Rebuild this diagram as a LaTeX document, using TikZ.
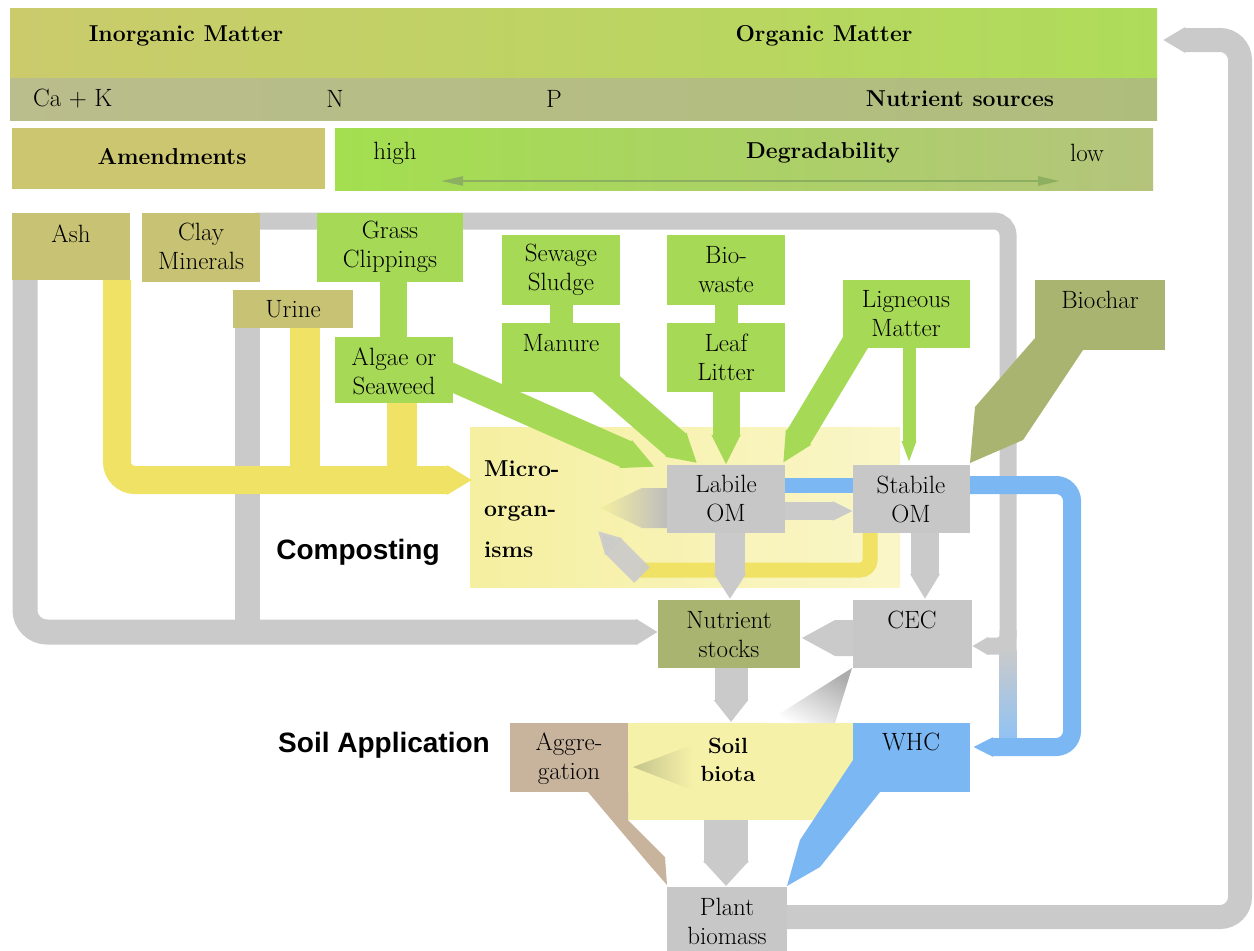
\documentclass[tikz,border=0pt]{standalone}
\usepackage{fontspec}
\newfontfamily\arialf{Liberation Sans}
\usetikzlibrary{arrows.meta,fit,calc}
\definecolor{gpipe}{HTML}{CACACA}
\definecolor{gbox}{HTML}{C7C7C7}
\definecolor{grn}{HTML}{A6D956}
\definecolor{olv}{HTML}{C8C274}
\definecolor{olvd}{HTML}{A8B46F}
\definecolor{ylw}{HTML}{F0E264}
\definecolor{pyl}{HTML}{FAF6C8}
\definecolor{pyl2}{HTML}{F5EFA0}
\definecolor{sbio}{HTML}{F6F1A8}
\definecolor{blu}{HTML}{7BB7F3}
\definecolor{brn}{HTML}{C8B39D}
\definecolor{bandL}{HTML}{CBCB6C}
\definecolor{bandR}{HTML}{AEDC5A}
\definecolor{nutL}{HTML}{BABD8C}
\definecolor{nutR}{HTML}{AFBD7C}
\definecolor{amend}{HTML}{CCC670}
\definecolor{degL}{HTML}{A3DF4F}
\definecolor{degR}{HTML}{B4C47C}
\definecolor{darr}{HTML}{8DB060}
\definecolor{aggarr}{HTML}{C4C48C}
\pgfdeclarelayer{back}
\pgfdeclarelayer{pipes}
\pgfsetlayers{back,pipes,main}
\begin{document}
\begin{tikzpicture}[x=1pt,y=-1pt,
  box/.style={inner sep=0pt, draw=none},
  lbl/.style={inner sep=0pt, align=center, font=\fontsize{25}{29}\selectfont},
  hd/.style={inner sep=0pt, align=center, font=\fontsize{23}{29}\selectfont\bfseries},
  sans/.style={inner sep=0pt, font=\arialf\fontsize{28}{34}\selectfont\bfseries},
  ptip/.style={-{Triangle[length=#1,width=0pt 1]}}]
\useasboundingbox (0,0) rectangle (1254,951);
\begin{pgfonlayer}{back}
\fill[white] (0,0) rectangle (1254,951);
% top bands
\shade[left color=bandL, right color=bandR] (10,8) rectangle (1157,78);
\shade[left color=nutL, right color=nutR] (10,78) rectangle (1157,120);
\fill[amend] (12,128) rectangle (325,189);
\shade[left color=degL, right color=degR] (335,128) rectangle (1153,190);
% composting and soil biota areas
\shade[left color=pyl2, right color=pyl] (470,427) rectangle (900,587);
\fill[sbio] (628,723) rectangle (853,820);
\end{pgfonlayer}

% header texts
\node[hd] (inorg) at (186,36) {Inorganic Matter};
\node[hd] (org) at (824,36) {Organic Matter};
\node[lbl, anchor=west] (cak) at (33,99) {Ca + K};
\node[lbl] (nN) at (335,99) {N};
\node[lbl] (nP) at (554,99) {P};
\node[hd] (nsrc) at (960,99) {Nutrient sources};
\node[hd] (amendt) at (172,157) {Amendments};
\node[lbl] (high) at (395,153) {high};
\node[hd] (degr) at (823,153) {Degradability};
\node[lbl] (low) at (1087,153) {low};
\coordinate (dl) at (441,181);
\coordinate (dr) at (1060,181);
\draw[darr, line width=2.5pt, {Triangle[length=22pt,width=9pt]}-{Triangle[length=22pt,width=9pt]}] (dl) -- (dr);

% boxes
\node[box, fill=olv, fit={(12,213) (130,280)}] (ash) {};
\node[box, fill=olv, fit={(142,213) (260,282)}] (clay) {};
\node[box, fill=grn, fit={(317,213) (463,282)}] (grass) {};
\node[box, fill=olv, fit={(233,290) (353,328)}] (urine) {};
\node[box, fill=grn, fit={(335,337) (453,403)}] (algae) {};
\node[box, fill=grn, fit={(502,235) (620,305)}] (sewage) {};
\node[box, fill=grn, fit={(502,323) (620,392)}] (manure) {};
\node[box, fill=grn, fit={(667,235) (785,305)}] (biow) {};
\node[box, fill=grn, fit={(667,323) (785,392)}] (leaf) {};
\node[box, fill=grn, fit={(843,280) (970,348)}] (lign) {};
\node[box, fill=olvd, fit={(1035,280) (1165,350)}] (biochar) {};
\node[box, fill=gbox, fit={(667,465) (785,533)}] (labile) {};
\node[box, fill=gbox, fit={(853,465) (970,533)}] (stabile) {};
\node[box, fill=olvd, fit={(658,600) (800,668)}] (nutr) {};
\node[box, fill=gbox, fit={(853,600) (972,668)}] (cec) {};
\node[box, fill=brn, fit={(510,723) (628,792)}] (aggr) {};
\node[box, fill=blu, fit={(853,723) (970,792)}] (whc) {};
\node[box, fill=gbox, fit={(667,887) (787,951)}] (plant) {};

% box texts
\node[lbl] (asht) at (71,234) {Ash};
\node[lbl] (clayt) at (201,246) {Clay\\Minerals};
\node[lbl] (grasst) at (390,247) {Grass\\Clippings};
\node[lbl] (urinet) at (293,309) {Urine};
\node[lbl] (algaet) at (394,371) {Algae or\\Seaweed};
\node[lbl] (sewaget) at (561,270) {Sewage\\Sludge};
\node[lbl] (manuret) at (561,343) {Manure};
\node[lbl] (biowt) at (726,270) {Bio-\\waste};
\node[lbl] (leaft) at (726,357) {Leaf\\Litter};
\node[lbl] (lignt) at (906,314) {Ligneous\\Matter};
\node[lbl] (biochart) at (1100,300) {Biochar};
\node[lbl] (labilet) at (726,499) {Labile\\OM};
\node[lbl] (stabilet) at (911,499) {Stabile\\OM};
\node[lbl] (nutrt) at (729,635) {Nutrient\\stocks};
\node[lbl] (cect) at (912,620) {CEC};
\node[lbl] (aggrt) at (569,759) {Aggre-\\gation};
\node[lbl] (whct) at (911,742) {WHC};
\node[lbl] (plantt) at (727,921) {Plant\\biomass};
\node[inner sep=0pt, align=left, anchor=west, font=\fontsize{23}{40.5}\selectfont\bfseries] (micro) at (484,509) {Micro-\\organ-\\isms};
\node[inner sep=0pt, align=center, font=\fontsize{22}{28}\selectfont\bfseries] (soilb) at (728,760) {Soil\\biota};
\node[sans] (comp) at (358,552) {Composting};
\node[sans] (soilapp) at (384,745) {Soil Application};

\begin{pgfonlayer}{pipes}
% outer gray loop: plant biomass back to the top band
\coordinate (topin) at (1163,40);
\draw[gpipe, line width=24pt, rounded corners=20pt, ptip=22pt] (plant.east |- 0,917) -- (1240,917) -- (1240,40) -- (topin);
% left gray network into nutrient stocks
\draw[gpipe, line width=25pt, rounded corners=22pt, ptip=22pt] (25,280) -- (25,632) -- (nutr.west |- 0,632);
\draw[gpipe, line width=25pt] (247,328) -- (247,620);
% clay minerals pipe to CEC and WHC
\draw[gpipe, line width=17pt, rounded corners=14pt] (255,221) -- (1008,221) -- (1008,652);
\draw[gpipe, line width=17pt, rounded corners=10pt, ptip=16pt] (1008,630) -- (1008,646) -- (cec.east |- 0,646);
\shade[top color=gpipe, bottom color=blu!85!white] (999.5,650) rectangle (1016.5,742);
% blue loop stabile -> WHC
\draw[blu, line width=18pt, rounded corners=16pt, ptip=20pt] (stabile.east |- 0,485) -- (1072,485) -- (1072,747) -- (973,747);
\draw[blu, line width=15pt] (labile.east |- 0,485) -- (stabile.west |- 0,485);
\draw[gpipe, line width=18pt, ptip=20pt] (labile.east |- 0,511) -- (stabile.west |- 0,511);
% yellow pipes into micro-organisms
\draw[ylw, line width=28pt, rounded corners=18pt, ptip=25pt] (117,280) -- (117,480) -- (472,480);
\draw[ylw, line width=30pt] (305,328) -- (305,470);
\draw[ylw, line width=30pt] (402,403) -- (402,470);
% composting inner loop
\draw[ylw, line width=15pt, rounded corners=10pt] (870,533) -- (870,570) -- (640,570);
\draw[gpipe, opacity=0.9, line width=22pt, ptip=22pt] (642,575) -- (598,531);
\shade[left color=pyl2, right color=gbox!95!black] (667,488) -- (642,488) -- (600,508) -- (642,528) -- (667,528) -- cycle;
% green inputs
\draw[grn, line width=27pt] (393,282) -- (393,337);
\draw[grn, line width=23pt] (sewage.south) -- (manure.north);
\draw[grn, line width=23pt] (biow.south) -- (leaf.north);
\draw[grn, line width=27pt, ptip=30pt] (leaf.south) -- (labile.north);
\draw[grn, line width=30pt, ptip=28pt] (590,370) -- (697,463);
\draw[grn, line width=28pt, ptip=32pt] (440,372) -- (655,467);
\draw[grn, line width=27pt, ptip=30pt] (860,335) -- (783,463);
\draw[grn, line width=13pt, ptip=22pt] (909,348) -- (909,463);
\fill[olvd] (1042,330) -- (1083,350) -- (1023,440) -- (970,463) -- (975,407) -- cycle;
% gray flows
\draw[gpipe, line width=30pt, ptip=25pt] (730,533) -- (730,599);
\draw[gpipe, line width=28pt, ptip=25pt] (925,533) -- (925,599);
\fill[gpipe] (853,620) -- (835,620) -- (802,638) -- (835,656) -- (853,656) -- cycle;
\draw[gpipe, line width=33pt, ptip=22pt] (731,668) -- (731,722);
\shade[top color=gpipe!85!black, bottom color=white, shading angle=-30] (852,668) -- (835,723) -- (765,723) -- cycle;
% soil application
\shade[left color=aggarr, right color=sbio] (692,745) -- (633,767) -- (692,790) -- cycle;
\draw[gpipe, line width=44pt, ptip=25pt] (726,820) -- (726,886);
\fill[brn] (588,792) -- (628,792) -- (628,820) -- (665,857) -- (667,885) -- (647,862) -- cycle;
\fill[blu] (853,760) -- (853,792) -- (880,792) -- (820,867) -- (787,886) -- (800,840) -- cycle;
\end{pgfonlayer}
\end{tikzpicture}
\end{document}
